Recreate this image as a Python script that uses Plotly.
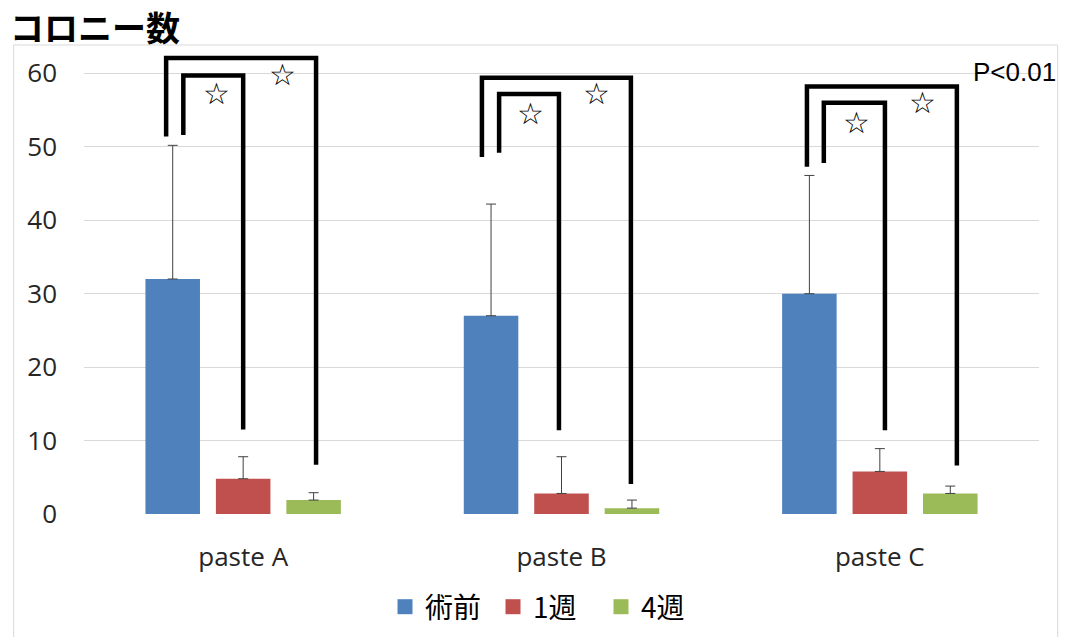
import plotly.graph_objects as go

categories = ["paste A", "paste B", "paste C"]
series_names = ["術前", "1週", "4週"]
colors = ["#4F81BD", "#C0504D", "#9BBB59"]
before_vals = [32, 27, 30]
before_err = [18.2, 15.2, 16.1]
week1_vals = [4.8, 2.8, 5.8]
week1_err = [3.0, 5.0, 3.1]
week4_vals = [1.9, 0.8, 2.8]
week4_err = [1.0, 1.1, 1.0]
y_ticks = [0, 10, 20, 30, 40, 50, 60]

# significance brackets (per category): x offsets from category centre, heights
outer_left_dx = [-0.242, -0.250, -0.229]
outer_right_dx = [0.229, 0.218, 0.242]
outer_top = [62.1, 59.4, 58.2]
outer_left_bottom = [51.4, 48.6, 47.3]
outer_right_bottom = [6.7, 4.1, 6.6]
inner_left_dx = [-0.188, -0.196, -0.176]
inner_right_dx = [0.0, -0.008, 0.016]
inner_top = [59.7, 57.2, 56.0]
inner_left_bottom = [51.6, 49.2, 47.8]
inner_right_bottom = [11.5, 11.4, 11.4]
star_inner_dx = [-0.085, -0.096, -0.072]
star_inner_y = [57.2, 54.6, 53.3]
star_outer_dx = [0.122, 0.111, 0.135]
star_outer_y = [59.8, 57.2, 56.0]

vals = [before_vals, week1_vals, week4_vals]
errs = [before_err, week1_err, week4_err]

fig = go.Figure()
for name, color, v, e in zip(series_names, colors, vals, errs):
    fig.add_trace(go.Bar(
        x=categories, y=v, name=name, marker_color=color, marker_line_width=0,
        showlegend=False,
        error_y=dict(type="data", array=e, arrayminus=[0] * len(e), symmetric=False,
                     color="#404040", thickness=1, width=5),
    ))
for name, color in zip(series_names, colors):
    fig.add_trace(go.Scatter(
        x=[None], y=[None], mode="markers", name=name,
        marker=dict(symbol="square", size=15, color=color),
    ))

shapes = []
for i in range(len(categories)):
    xl, xr = i + outer_left_dx[i], i + outer_right_dx[i]
    shapes.append(dict(
        type="path", xref="x", yref="y",
        path=f"M{xl},{outer_left_bottom[i]} L{xl},{outer_top[i]} L{xr},{outer_top[i]} L{xr},{outer_right_bottom[i]}",
        line=dict(color="black", width=4.5)))
    xl, xr = i + inner_left_dx[i], i + inner_right_dx[i]
    shapes.append(dict(
        type="path", xref="x", yref="y",
        path=f"M{xl},{inner_left_bottom[i]} L{xl},{inner_top[i]} L{xr},{inner_top[i]} L{xr},{inner_right_bottom[i]}",
        line=dict(color="black", width=4.5)))

# chart area border
shapes.append(dict(type="rect", xref="paper", yref="paper",
                   x0=(13.7 - 84) / 955, x1=(1057.7 - 84) / 955,
                   y0=(514 - 660) / 470, y1=(514 - 45) / 470,
                   line=dict(color="#D9D9D9", width=1), layer="below"))

annotations = []
for i in range(len(categories)):
    annotations.append(dict(x=i + star_inner_dx[i], y=star_inner_y[i], xref="x", yref="y",
                            text="☆", showarrow=False, font=dict(size=30, color="black", family="DejaVu Sans")))
    annotations.append(dict(x=i + star_outer_dx[i], y=star_outer_y[i], xref="x", yref="y",
                            text="☆", showarrow=False, font=dict(size=30, color="black", family="DejaVu Sans")))
annotations.append(dict(x=(1058 - 84) / 955, y=(514 - 72) / 470, xref="paper", yref="paper",
                        xanchor="right", yanchor="middle", text="P<0.01", showarrow=False,
                        font=dict(size=26, color="black", family="Liberation Sans")))

fig.update_layout(
    width=1065, height=637,
    margin=dict(l=84, r=26, t=44, b=123, autoexpand=False),
    paper_bgcolor="white", plot_bgcolor="white",
    barmode="group", bargap=0.336, bargroupgap=0.226,
    title=dict(text="コロニー数", xref="container", yref="container",
               x=10 / 1065, xanchor="left", y=1 - 29 / 637, yanchor="middle",
               font=dict(size=34, color="black", family="Noto Sans CJK JP", weight="bold")),
    xaxis=dict(showgrid=False, showline=False, zeroline=False, ticks="", automargin=False,
               tickfont=dict(size=26, color="#262626", family="Open Sans"),
               ticklabelstandoff=25),
    yaxis=dict(range=[0, 64], tickvals=y_ticks, showgrid=True, gridcolor="#D9D9D9",
               gridwidth=1, zeroline=False, showline=False, ticks="", automargin=False,
               tickfont=dict(size=26, color="#262626", family="Open Sans"),
               ticklabelstandoff=26),
    legend=dict(orientation="h", x=(385 - 84) / 955, xanchor="left",
                y=(514 - 607) / 470, yanchor="middle",
                font=dict(size=28, color="black", family="Noto Sans CJK JP"),
                itemwidth=30, entrywidth=63, entrywidthmode="pixels",
                bgcolor="rgba(0,0,0,0)"),
    shapes=shapes, annotations=annotations,
)

fig.write_html("out.html")
